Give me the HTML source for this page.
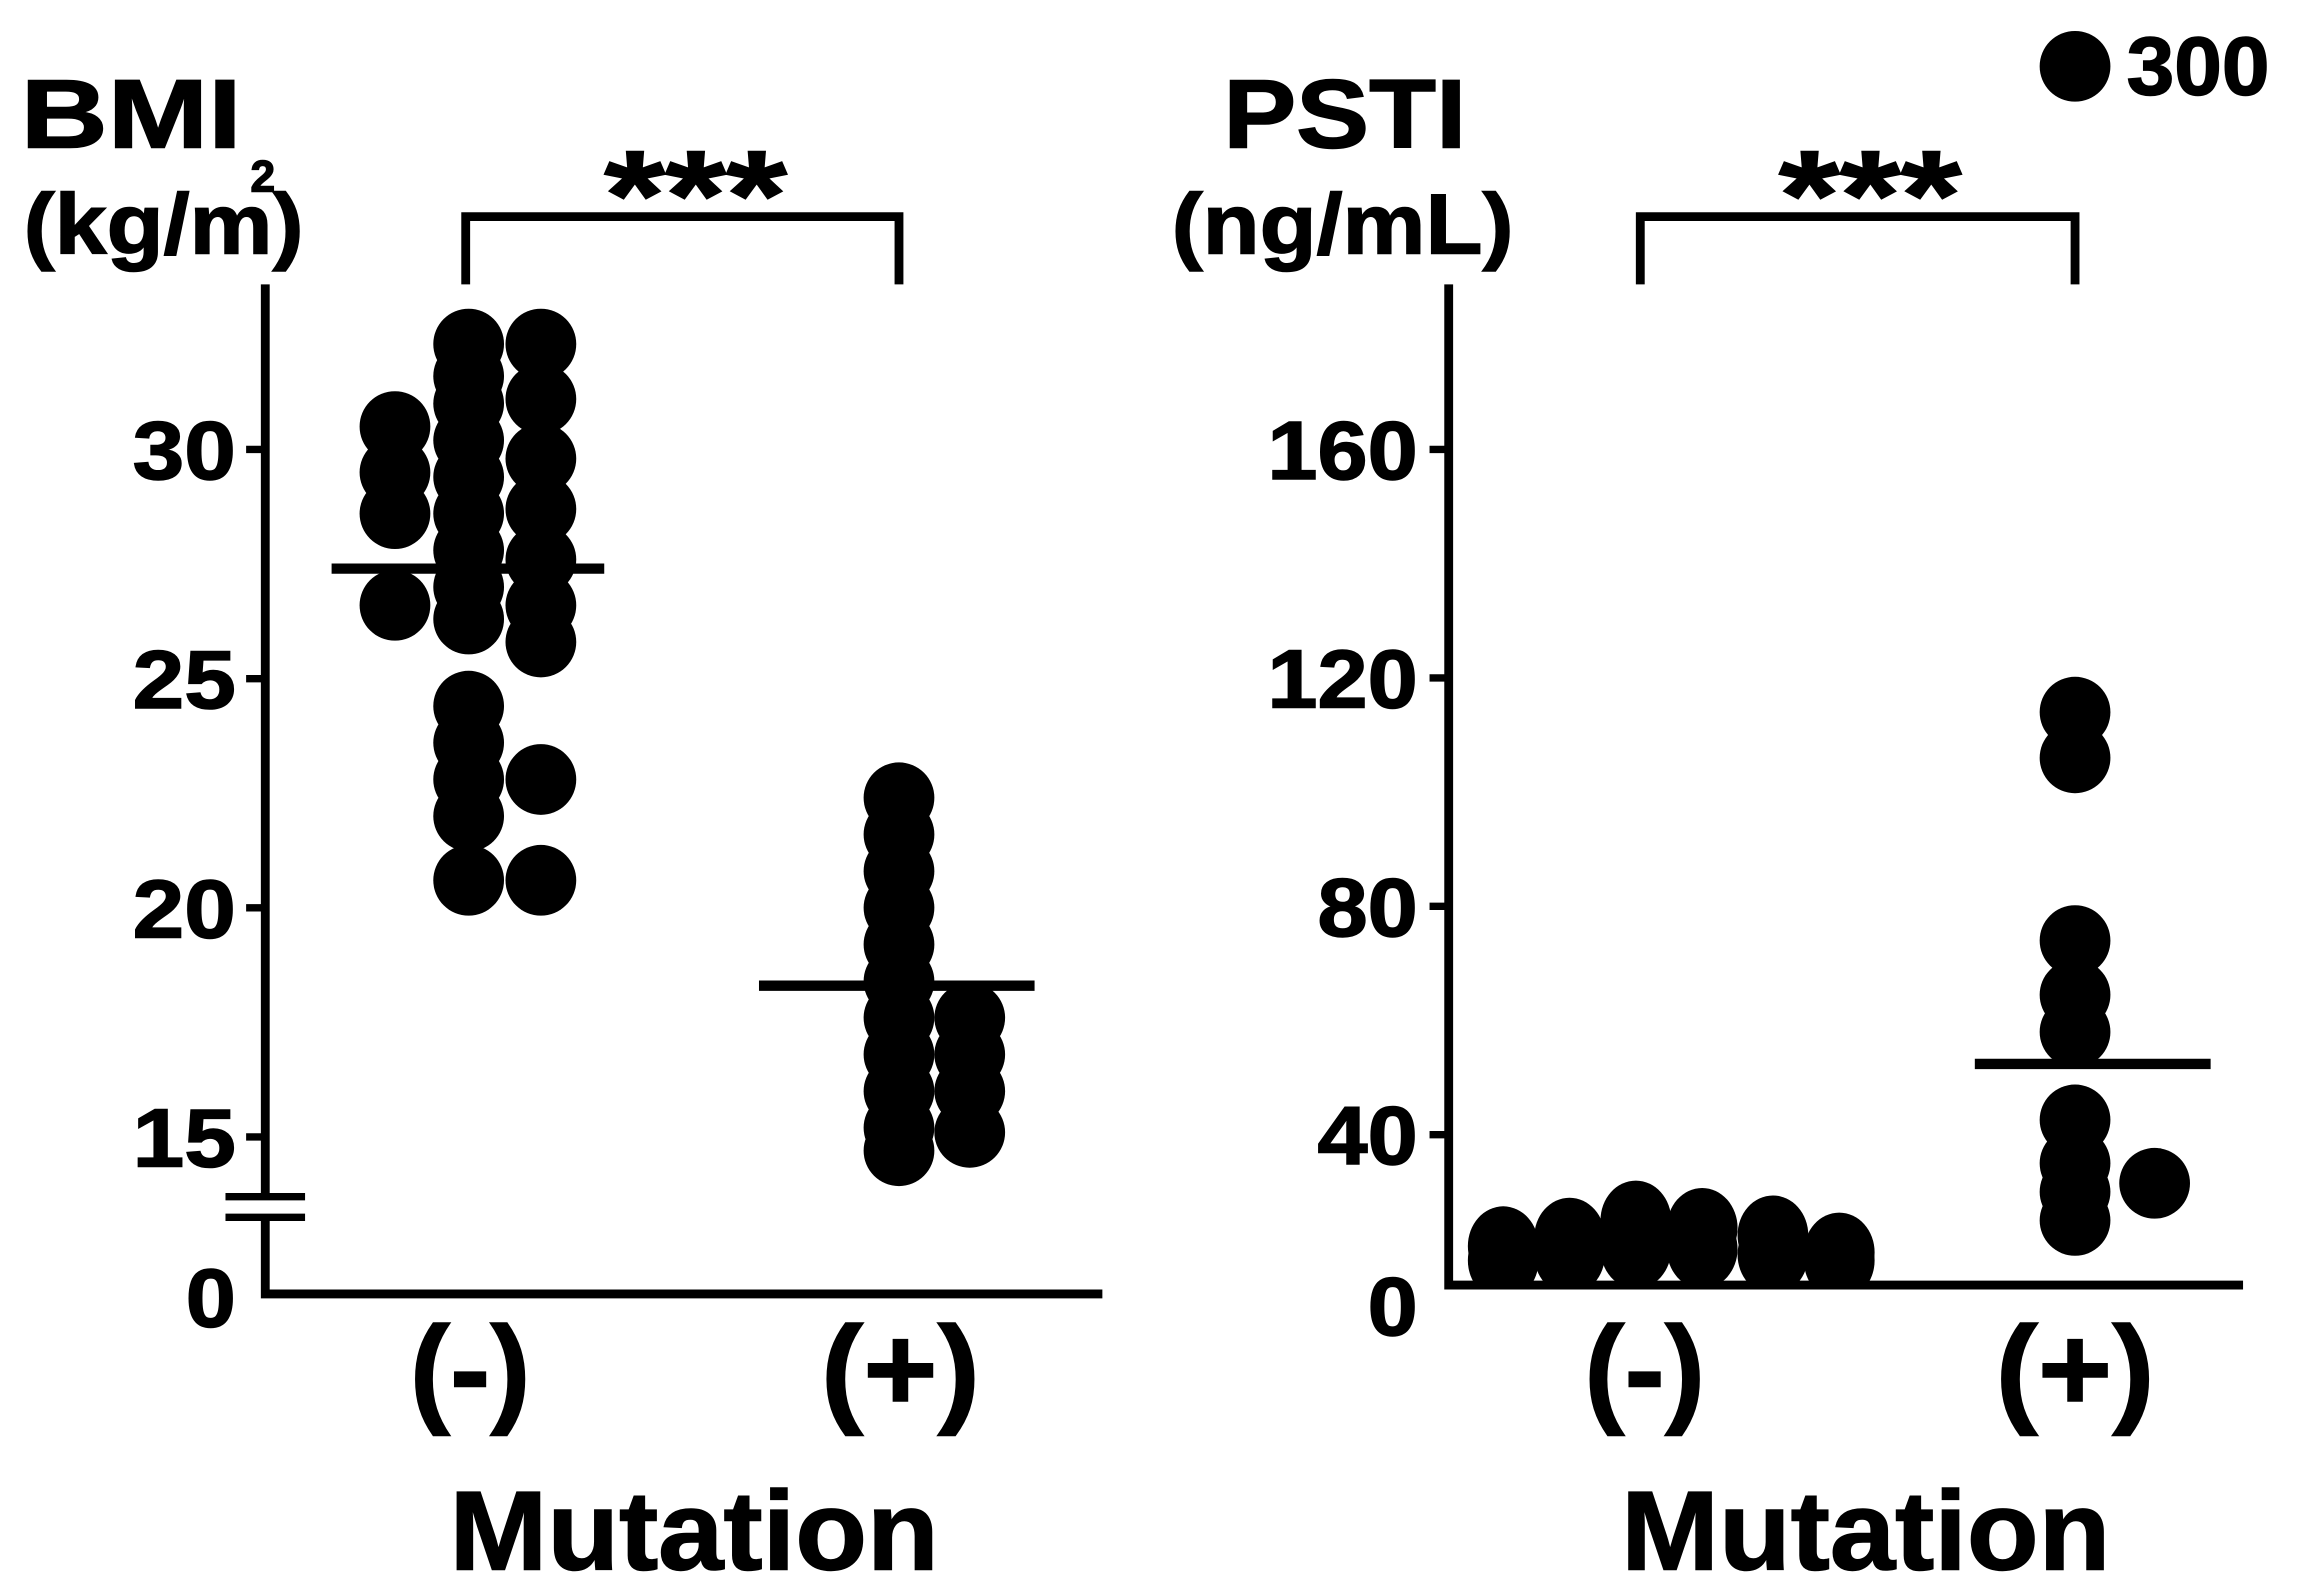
<!DOCTYPE html>
<html><head><meta charset="utf-8"><style>
html,body{margin:0;padding:0;background:#fff;}
svg{display:block;}
text{font-family:"Liberation Sans",Arial,sans-serif;font-weight:bold;fill:#000;stroke:#000;stroke-width:1;}
</style></head><body>
<svg id="chart" width="2302" height="1596" viewBox="0 0 1562 1083" preserveAspectRatio="none" xmlns="http://www.w3.org/2000/svg">
<g id="left"></g>
<g id="right"></g>
</svg>
<script>
// BMI data (kg/m2)
const bmiTicks = [15, 20, 25, 30];
const bmiNegCol1 = [30.5, 29.5, 28.6, 26.6];
const bmiNegCol2 = [32.3, 31.6, 31.0, 30.2, 29.4, 28.6, 27.8, 27.0, 26.3, 24.4, 23.6, 22.8, 22.0, 20.6];
const bmiNegCol3 = [32.3, 31.1, 29.8, 28.7, 27.6, 26.6, 25.8, 22.8, 20.6];
const bmiPosCol1 = [22.4, 21.6, 20.8, 20.0, 19.2, 18.4, 17.6, 16.8, 16.0, 15.2, 14.7];
const bmiPosCol2 = [17.6, 16.8, 16.0, 15.1];
const bmiMeans = [27.4, 18.3];
// PSTI data (ng/mL)
const pstiTicks = [40, 80, 120, 160];
const pstiNegCols = [[18, 20.5], [19, 22], [20, 23, 25], [20, 23.7], [19, 22.4], [18, 19.4]];
const pstiPosCol1 = [114, 106, 74, 64.5, 58, 42.6, 35, 30, 25];
const pstiPosCol2 = [31.5];
const pstiMeans = [14, 52.4];

const NS = "http://www.w3.org/2000/svg";
function mk(parent, tag, attrs, txt) {
  const e = document.createElementNS(NS, tag);
  for (const k in attrs) e.setAttribute(k, attrs[k]);
  if (txt !== undefined) e.textContent = txt;
  parent.appendChild(e);
  return e;
}
const R = 24;
const yB = v => 305 + (30 - v) * 31.1;
const yP = v => 925 - v * 155 / 40;

// ---- Left panel ----
const L = document.getElementById('left');
function dotsL(col, x, name) {
  col.forEach(v => {
    const c = mk(L, 'ellipse', {cx: x, cy: yB(v), rx: R, ry: R, fill: '#000'});
    
    
  });
}
dotsL(bmiNegCol1, 268, 'bmi-neg-point');
dotsL(bmiNegCol2, 318, 'bmi-neg-point');
dotsL(bmiNegCol3, 367, 'bmi-neg-point');
dotsL(bmiPosCol1, 610, 'bmi-pos-point');
dotsL(bmiPosCol2, 658, 'bmi-pos-point');
let m = mk(L, 'line', {x1: 225, x2: 410, y1: yB(bmiMeans[0]), y2: yB(bmiMeans[0]), stroke: '#000', 'stroke-width': 7});
 
m = mk(L, 'line', {x1: 515, x2: 702, y1: yB(bmiMeans[1]), y2: yB(bmiMeans[1]), stroke: '#000', 'stroke-width': 7});
 
let ax = mk(L, 'path', {d: 'M180 193 V878 H748', stroke: '#000', 'stroke-width': 6, fill: 'none'});
 
bmiTicks.forEach(t => {
  const y = yB(t);
  const tk = mk(L, 'line', {x1: 167, x2: 180, y1: y, y2: y, stroke: '#000', 'stroke-width': 5});
   
  const tl = mk(L, 'text', {x: 160, y: y + 20, 'font-size': 56, 'text-anchor': 'end', textLength: 70, lengthAdjust: 'spacingAndGlyphs'}, String(t));
   
});
mk(L, 'rect', {x: 150, y: 812, width: 60, height: 14, fill: '#fff'});
let br = mk(L, 'path', {d: 'M153 812 H207 M153 826 H207', stroke: '#000', 'stroke-width': 5});
 
let z = mk(L, 'text', {x: 160, y: 900, 'font-size': 56, 'text-anchor': 'end', textLength: 34, lengthAdjust: 'spacingAndGlyphs'}, '0');
 
let bk = mk(L, 'path', {d: 'M316 193 V147 H610 V193', stroke: '#000', 'stroke-width': 6, fill: 'none'});
 
let st = mk(L, 'text', {x: 410, y: 162, 'font-size': 86, textLength: 124, lengthAdjust: 'spacingAndGlyphs'}, '***');
 
let t1 = mk(L, 'text', {x: 14, y: 100, 'font-size': 66, textLength: 150, lengthAdjust: 'spacingAndGlyphs'}, 'BMI');
 
let t2 = mk(L, 'text', {x: 16, y: 172, 'font-size': 58, textLength: 190, lengthAdjust: 'spacingAndGlyphs'}, '(kg/m)');
 
let t3 = mk(L, 'text', {x: 170, y: 130, 'font-size': 30}, '2');
 
let c1 = mk(L, 'text', {x: 278, y: 957, 'font-size': 82, textLength: 82, lengthAdjust: 'spacingAndGlyphs'}, '(-)');
 
let c2 = mk(L, 'text', {x: 557, y: 957, 'font-size': 82, textLength: 108, lengthAdjust: 'spacingAndGlyphs'}, '(+)');
 
let xt = mk(L, 'text', {x: 305, y: 1065, 'font-size': 76, textLength: 332, lengthAdjust: 'spacingAndGlyphs'}, 'Mutation');
 

// ---- Right panel ----
const P = document.getElementById('right');
const negX = [1020, 1065, 1110, 1155, 1203, 1248];
pstiNegCols.forEach((col, i) => {
  col.forEach(v => {
    const c = mk(P, 'ellipse', {cx: negX[i], cy: yP(v), rx: R, ry: R + 3, fill: '#000'});
    
    
  });
});
pstiPosCol1.forEach(v => {
  const c = mk(P, 'ellipse', {cx: 1408, cy: yP(v), rx: R, ry: R, fill: '#000'});
  
  
});
pstiPosCol2.forEach(v => {
  const c = mk(P, 'ellipse', {cx: 1462, cy: yP(v), rx: R, ry: R, fill: '#000'});
  
  
});
mk(P, 'rect', {x: 986, y: 875, width: 540, height: 60, fill: '#fff'});
m = mk(P, 'line', {x1: 1340, x2: 1500, y1: yP(pstiMeans[1]), y2: yP(pstiMeans[1]), stroke: '#000', 'stroke-width': 7});
 
ax = mk(P, 'path', {d: 'M983 193 V872 H1522', stroke: '#000', 'stroke-width': 6, fill: 'none'});
 
pstiTicks.forEach(t => {
  const y = yP(t);
  const tk = mk(P, 'line', {x1: 970, x2: 983, y1: y, y2: y, stroke: '#000', 'stroke-width': 5});
   
  const s = String(t);
  const tl = mk(P, 'text', {x: 962, y: y + 20, 'font-size': 56, 'text-anchor': 'end', textLength: s.length * 34, lengthAdjust: 'spacingAndGlyphs'}, s);
   
});
z = mk(P, 'text', {x: 962, y: 906, 'font-size': 56, 'text-anchor': 'end', textLength: 34, lengthAdjust: 'spacingAndGlyphs'}, '0');
 
bk = mk(P, 'path', {d: 'M1113 193 V147 H1408 V193', stroke: '#000', 'stroke-width': 6, fill: 'none'});
 
st = mk(P, 'text', {x: 1207, y: 162, 'font-size': 86, textLength: 124, lengthAdjust: 'spacingAndGlyphs'}, '***');
 
t1 = mk(P, 'text', {x: 830, y: 100, 'font-size': 66, textLength: 165, lengthAdjust: 'spacingAndGlyphs'}, 'PSTI');
 
t2 = mk(P, 'text', {x: 795, y: 172, 'font-size': 58, textLength: 232, lengthAdjust: 'spacingAndGlyphs'}, '(ng/mL)');
 
c1 = mk(P, 'text', {x: 1075, y: 957, 'font-size': 82, textLength: 82, lengthAdjust: 'spacingAndGlyphs'}, '(-)');
 
c2 = mk(P, 'text', {x: 1354, y: 957, 'font-size': 82, textLength: 108, lengthAdjust: 'spacingAndGlyphs'}, '(+)');
 
xt = mk(P, 'text', {x: 1100, y: 1065, 'font-size': 76, textLength: 332, lengthAdjust: 'spacingAndGlyphs'}, 'Mutation');
 
const ld = mk(P, 'ellipse', {cx: 1408, cy: 45, rx: R, ry: R, fill: '#000'});
 
const lt = mk(P, 'text', {x: 1443, y: 64, 'font-size': 56, textLength: 97, lengthAdjust: 'spacingAndGlyphs'}, '300');
 
</script>
</body></html>
